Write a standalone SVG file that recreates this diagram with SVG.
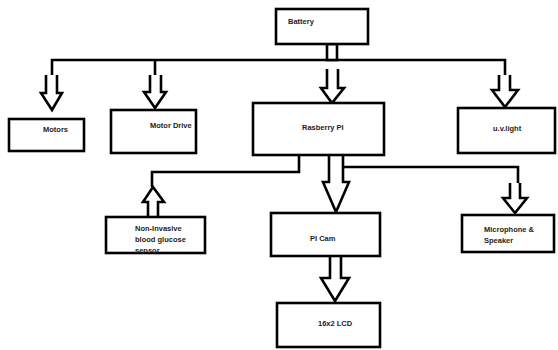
<svg xmlns="http://www.w3.org/2000/svg" width="558" height="350" viewBox="0 0 558 350">
<style>
.box{fill:#fff;stroke:#000;stroke-width:2.6}
.ln{fill:none;stroke:#000;stroke-width:2.6}
.ar{fill:#fff;stroke:#000;stroke-width:2.6;stroke-linejoin:miter}
text{font-family:"Liberation Sans",Arial,sans-serif;font-size:7.5px;font-weight:bold;fill:#222}
</style>
<rect width="558" height="350" fill="#fff"/>
<g id="connectors">
<path class="ln" d="M52 75 V60 H505 V75"/>
<path class="ln" d="M155 60 V75"/>
<rect class="ar" x="327" y="44" width="10" height="16"/>
<path class="ar" d="M46 75 V93 H41 L52 110 L62 93 H57 V75"/>
<path class="ar" d="M150 75 V92 H144 L155 108 L166 92 H161 V75"/>
<path class="ar" d="M327 69 V88 H321 L332 103 L344 88 H338 V69"/>
<path class="ar" d="M499 75 V90 H492 L505 107 L518 90 H510 V75"/>
<path class="ln" d="M299 155 V172 H152 V187"/>
<path class="ar" d="M148 217 V202 H143 L153 187 L164 202 H158 V217"/>
<path class="ar" d="M329 155 V182 H323 L336 212 L349 182 H343 V155"/>
<path class="ln" d="M343 167 H518 V183"/>
<path class="ar" d="M510 183 V198 H503 L515 213 L527 198 H520 V183"/>
<path class="ar" d="M330 257 V278 H321 L335 301 L349 278 H341 V257"/>
</g>
<g id="battery"><rect class="box" x="276" y="9" width="92" height="35"/><text x="288" y="24">Battery</text></g>
<g id="motors"><rect class="box" x="9" y="119" width="75" height="32"/><text x="43" y="132">Motors</text></g>
<g id="motor-drive"><rect class="box" x="111" y="110" width="85" height="43"/><text x="150" y="128">Motor Drive</text></g>
<g id="rasberry-pi"><rect class="box" x="253" y="103" width="131" height="52"/><text x="302" y="130">Rasberry PI</text></g>
<g id="uv-light"><rect class="box" x="458" y="108" width="97" height="45"/><text x="493" y="131">u.v.light</text></g>
<g id="glucose"><rect class="box" x="106" y="217" width="99" height="36"/><text x="135" y="231">Non-Invasive</text><text x="135" y="242">blood glucose</text><text x="135" y="253">sensor</text></g>
<g id="pi-cam"><rect class="box" x="271" y="213" width="109" height="43"/><text x="310" y="241">PI Cam</text></g>
<g id="microphone"><rect class="box" x="462" y="215" width="92" height="37"/><text x="484" y="232">Microphone &amp;</text><text x="484" y="243">Speaker</text></g>
<g id="lcd"><rect class="box" x="277" y="303" width="103" height="44"/><text x="318" y="326">16x2 LCD</text></g>
</svg>
